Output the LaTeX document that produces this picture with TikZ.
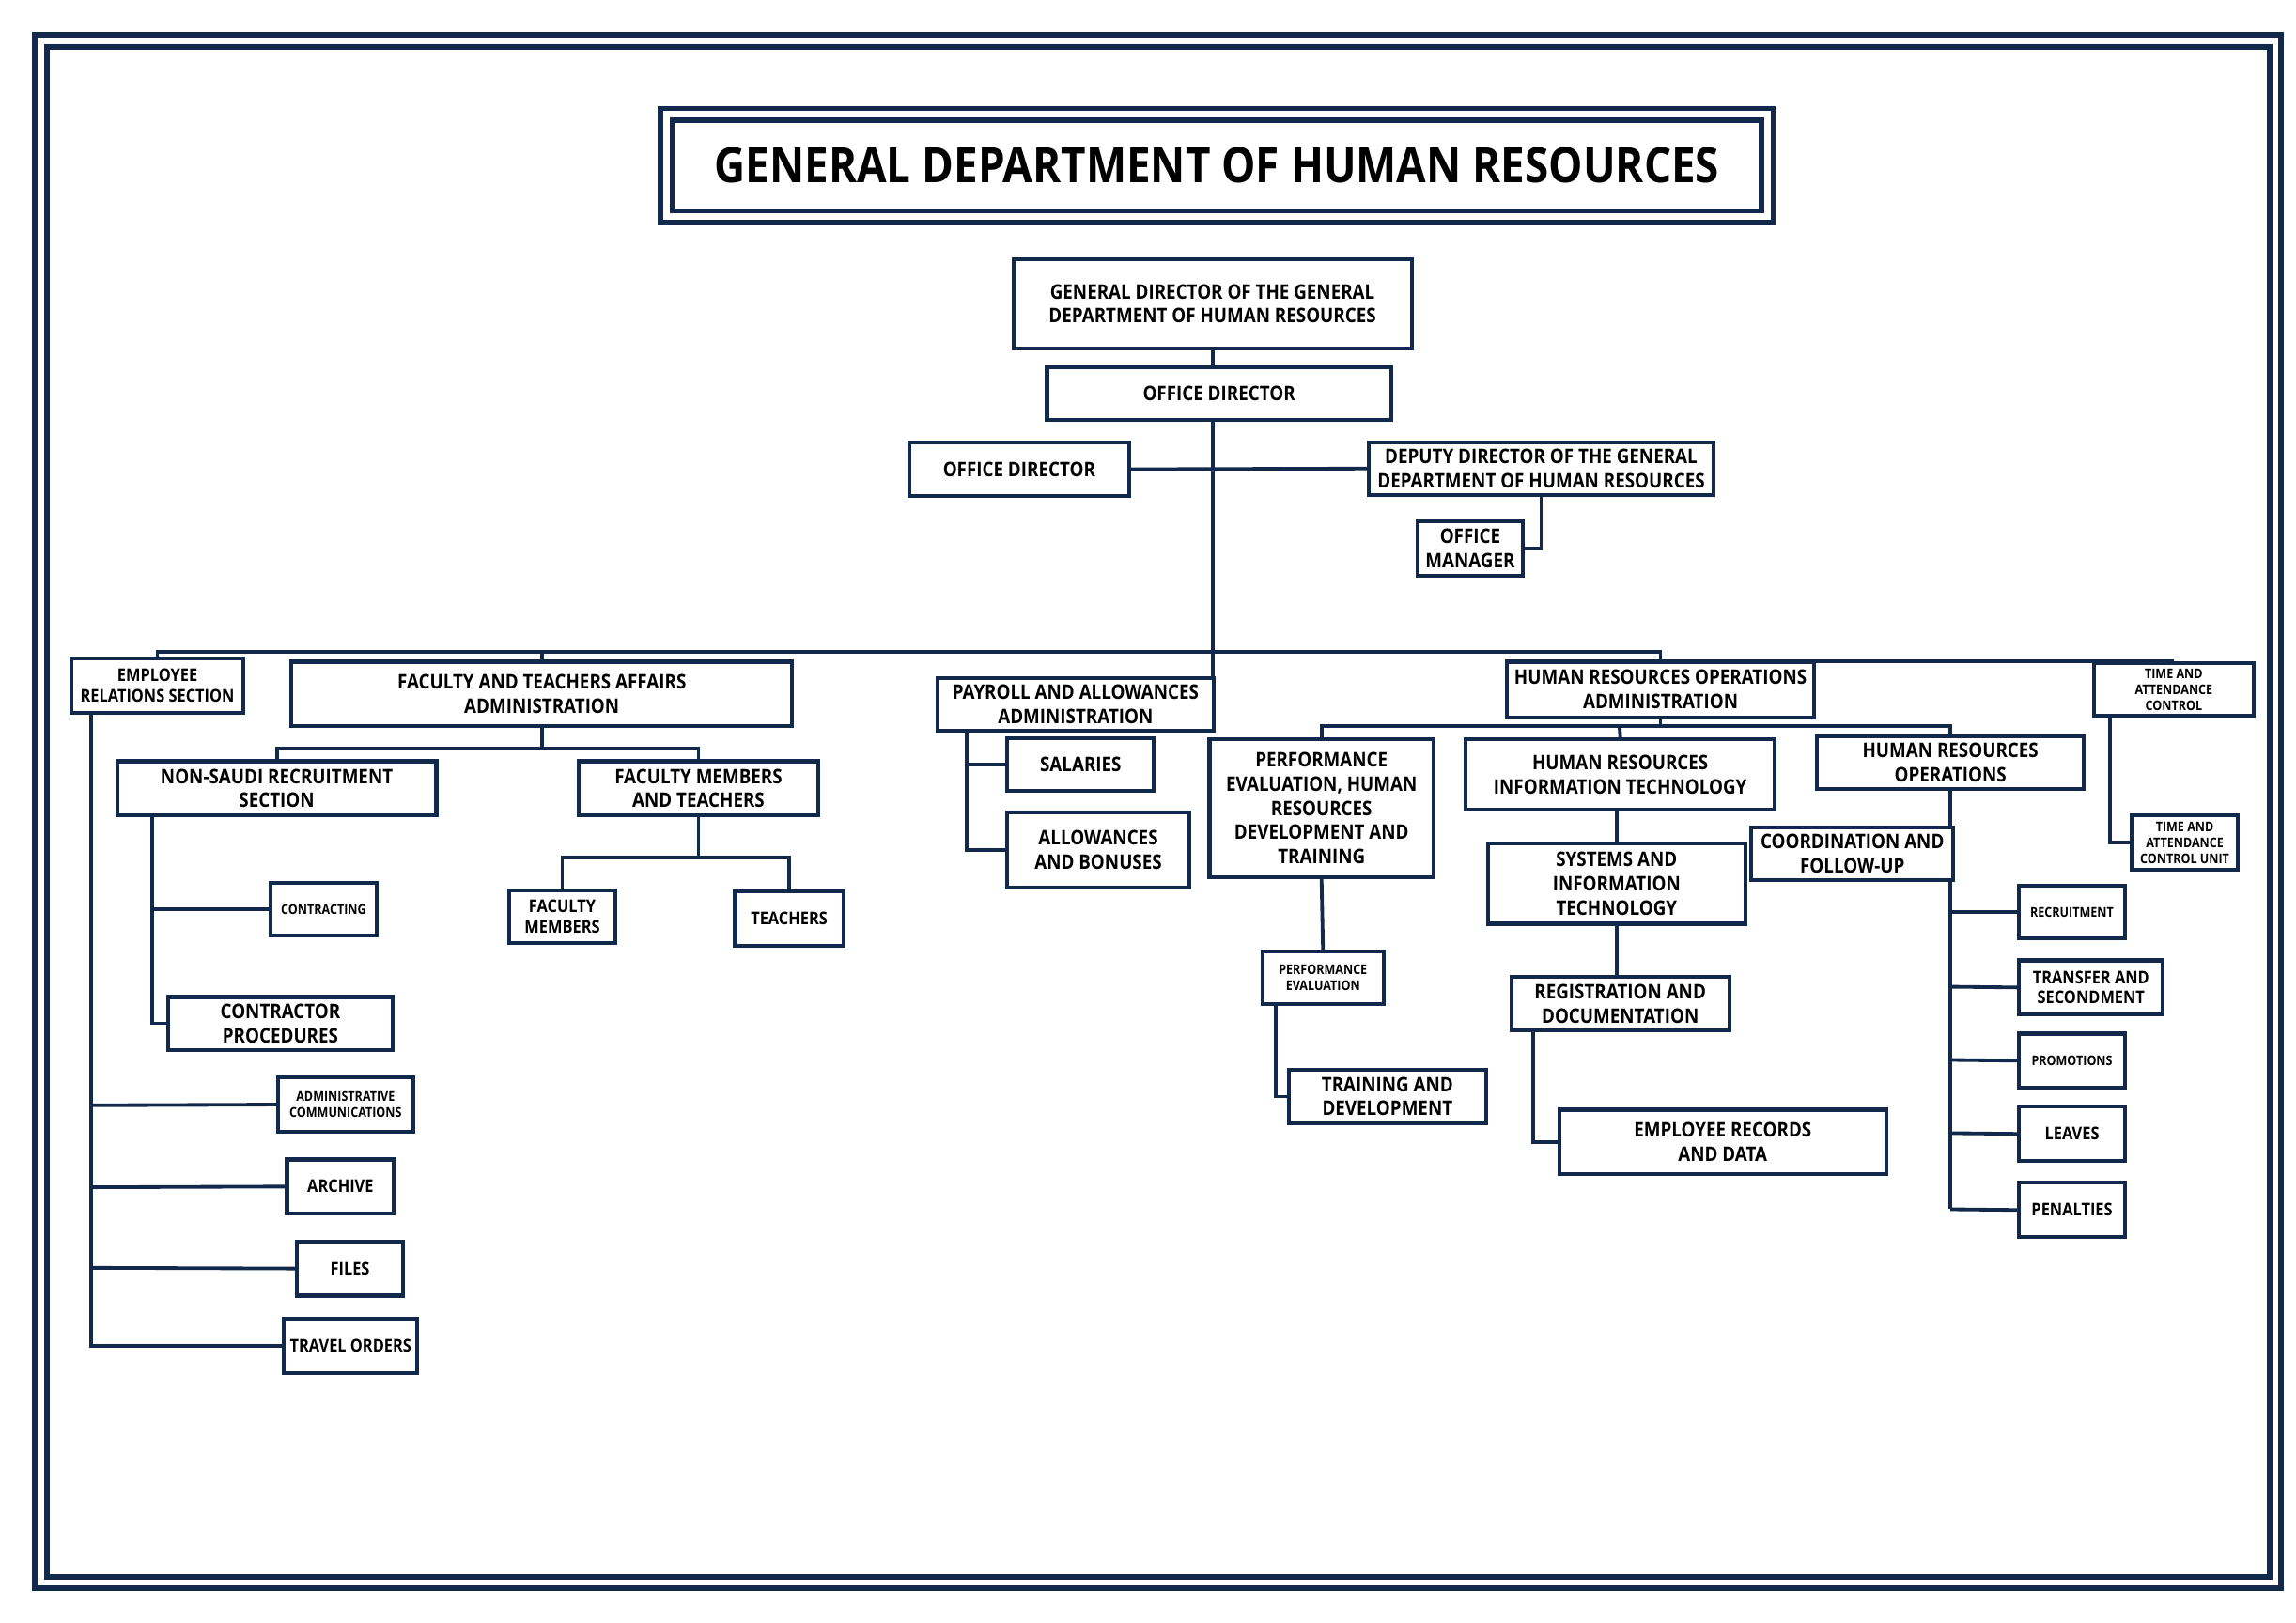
\documentclass[tikz,border=0pt]{standalone}
\usepackage{fontspec}
\setmainfont{Open Sans}[FakeStretch=0.88]
\definecolor{nv}{HTML}{13294B}
\begin{document}
\begin{tikzpicture}[x=0.2mm,y=-0.2mm,line width=1.4pt,draw=nv,
  box/.style={draw=nv,line width=1.5pt,fill=white,inner sep=0pt,align=center,text=black,font=\bfseries\fontsize{7.8}{9.4}\selectfont},
  sm/.style={font=\bfseries\fontsize{5.2}{6.2}\selectfont},
  md/.style={font=\bfseries\fontsize{6.8}{8}\selectfont}]
\newcommand\bx[5][]{\node[box,#1,minimum width={(#4-#2)*0.2mm},minimum height={(#5-#3)*0.2mm}] at ({(#2+#4)/2},{(#3+#5)/2})}
\useasboundingbox (0,0) rectangle (1568,1108);
\draw[line width=2.2pt] (24,24) rectangle (1558,1085);
\draw[line width=2.2pt] (32,32) rectangle (1550,1077);
\draw[line width=2pt] (451,74) rectangle (1211,152);
\node[box,line width=2pt,minimum width=744*0.2mm,minimum height=62*0.2mm,font=\bfseries\fontsize{19}{23}\selectfont] (title) at (831,113) {GENERAL DEPARTMENT OF HUMAN RESOURCES};
\coordinate (bus) at (828,445);
\bx{692}{177}{964}{238} (gd) {GENERAL DIRECTOR OF THE GENERAL\\DEPARTMENT OF HUMAN RESOURCES};
\bx{715}{251}{950}{287} (od) {OFFICE DIRECTOR};
\bx{621}{302}{771}{339} (od2) {OFFICE DIRECTOR};
\bx{935}{302}{1170}{338} (dep) {DEPUTY DIRECTOR OF THE GENERAL\\DEPARTMENT OF HUMAN RESOURCES};
\bx{968}{356}{1040}{393} (om) {OFFICE\\MANAGER};
\draw (828,238) -- (828,251);
\draw (828,287) -- (828,463);
\draw (od2.east) -- (dep.west);
\draw (dep.south) |- (om.east);
\bx[md]{49}{450}{166}{487} (er) {EMPLOYEE\\RELATIONS SECTION};
\bx{199}{452}{541}{496} (fa) {FACULTY AND TEACHERS AFFAIRS\\ADMINISTRATION};
\bx{640}{463}{829}{499} (pay) {PAYROLL AND ALLOWANCES\\ADMINISTRATION};
\bx{1029}{452}{1239}{490} (hroa) {HUMAN RESOURCES OPERATIONS\\ADMINISTRATION};
\bx[sm]{1430}{453}{1539}{489} (tac) {TIME AND\\ATTENDANCE\\CONTROL};
\draw (er.north) |- (bus) -| (hroa.north);
\draw (hroa.north) |- (tac.north);
\draw (fa.north) -- (fa.north |- bus);
\bx[sm]{190}{736}{282}{773} (ac) {ADMINISTRATIVE\\COMMUNICATIONS};
\bx[md]{196}{792}{269}{829} (ar) {ARCHIVE};
\bx[md]{203}{848}{275}{885} (fi) {FILES};
\bx[md]{194}{901}{285}{938} (tr) {TRAVEL ORDERS};
\draw (62,487) |- (tr.west);
\draw (62,755) -- (ac.west); \draw (62,811) -- (ar.west); \draw (62,866) -- (fi.west);
\bx{80}{520}{298}{557} (ns) {NON-SAUDI RECRUITMENT\\SECTION};
\bx{395}{520}{559}{557} (fmt) {FACULTY MEMBERS\\AND TEACHERS};
\draw (fa.south) -- (370,511);
\draw (ns.north) |- (370,511) -| (fmt.north);
\bx[sm]{185}{603}{257}{639} (con) {CONTRACTING};
\bx{115}{681}{268}{717} (cp) {CONTRACTOR\\PROCEDURES};
\draw (104,557) |- (cp.west); \draw (104,621) -- (con.west);
\bx[md]{348}{608}{420}{644} (fm) {FACULTY\\MEMBERS};
\bx[md]{502}{609}{576}{646} (te) {TEACHERS};
\draw (fmt.south) -- (477,586);
\draw (fm.north) |- (477,586) -| (te.north);
\bx{688}{504}{788}{540} (sal) {SALARIES};
\bx{688}{555}{812}{606} (alw) {ALLOWANCES\\AND BONUSES};
\draw (660,499) |- (alw.west); \draw (660,522) -- (sal.west);
\bx{826}{505}{979}{599} (pe) {PERFORMANCE\\EVALUATION, HUMAN\\RESOURCES\\DEVELOPMENT AND\\TRAINING};
\bx{1001}{505}{1212}{553} (hrit) {HUMAN RESOURCES\\INFORMATION TECHNOLOGY};
\bx{1241}{503}{1423}{539} (hro) {HUMAN RESOURCES\\OPERATIONS};
\draw (hroa.south) -- (1134,496);
\draw (pe.north) |- (1134,496) -| (hro.north);
\draw (1106,496) -- (hrit.north);
\bx[sm]{862}{650}{945}{686} (pev) {PERFORMANCE\\EVALUATION};
\bx{880}{731}{1015}{767} (td) {TRAINING AND\\DEVELOPMENT};
\draw (pe.south) -- (pev.north);
\draw (871,686) |- (td.west);
\bx{1016}{576}{1192}{631} (sit) {SYSTEMS AND\\INFORMATION\\TECHNOLOGY};
\bx{1032}{667}{1181}{704} (rd) {REGISTRATION AND\\DOCUMENTATION};
\bx{1065}{758}{1288}{802} (erd) {EMPLOYEE RECORDS\\AND DATA};
\draw (1104,553) -- (1104,576);
\draw (1104,631) -- (1104,667);
\draw (1047,704) |- (erd.west);
\draw (1332,539) -- (1332,826);
\bx{1196}{565}{1334}{601} (cf) {COORDINATION AND\\FOLLOW-UP};
\bx[sm]{1379}{605}{1451}{641} (rec) {RECRUITMENT};
\bx[md]{1379}{656}{1477}{693} (tsf) {TRANSFER AND\\SECONDMENT};
\bx[sm]{1379}{706}{1451}{743} (pro) {PROMOTIONS};
\bx[md]{1379}{756}{1451}{793} (lv) {LEAVES};
\bx[md]{1379}{808}{1451}{845} (pen) {PENALTIES};
\draw (1332,623) -- (rec.west); \draw (1332,674) -- (tsf.west); \draw (1332,724) -- (pro.west);
\draw (1332,774) -- (lv.west); \draw (1332,826) -- (pen.west);
\bx[sm]{1456}{557}{1528}{594} (tau) {TIME AND\\ATTENDANCE\\CONTROL UNIT};
\draw (1441,489) |- (tau.west);
\end{tikzpicture}
\end{document}
